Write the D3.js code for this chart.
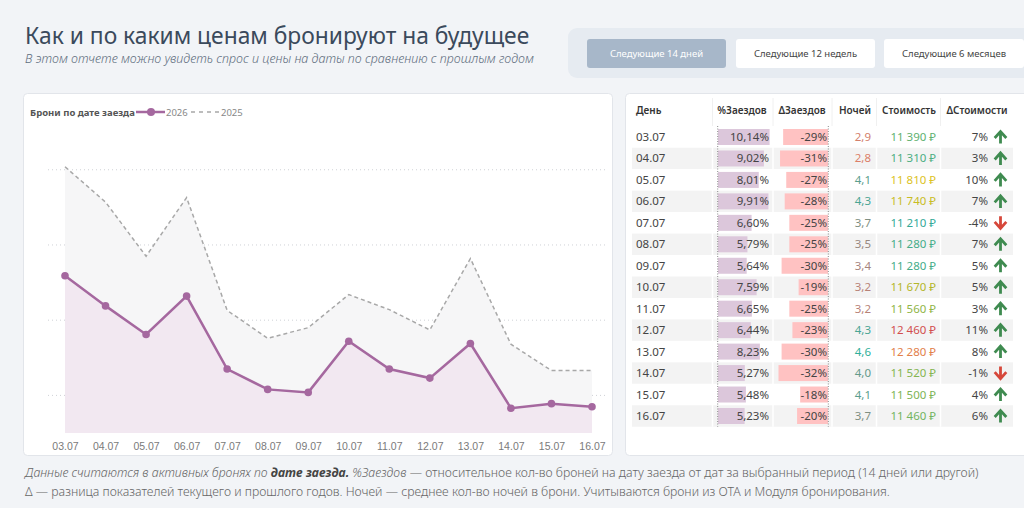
<!DOCTYPE html>
<html><head><meta charset="utf-8">
<script src="https://cdn.jsdelivr.net/npm/d3@7"></script>
<style>
html,body{margin:0;padding:0;background:#f2f4f7;}
svg{display:block;font-family:"Segoe UI","Noto Sans","Open Sans",sans-serif;}
</style></head>
<body>
<svg id="chart" width="1024" height="508"></svg>
<script>
/* Data */
const days=["03.07","04.07","05.07","06.07","07.07","08.07","09.07","10.07","11.07","12.07","13.07","14.07","15.07","16.07"];
const bookings2026=[35.9,31.9,28.1,33.2,23.5,20.8,20.4,27.2,23.5,22.3,26.9,18.3,18.9,18.5];
const bookings2025=[50.4,45.7,38.5,46.3,31.3,27.6,29.0,33.4,31.4,28.7,38.2,26.8,23.3,23.3];
const pctArrivals=[10.14,9.02,8.01,9.91,6.60,5.79,5.64,7.59,6.65,6.44,8.23,5.27,5.48,5.23];
const deltaArrivals=[-29,-31,-27,-28,-25,-25,-30,-19,-25,-23,-30,-32,-18,-20];
const nights=[2.9,2.8,4.1,4.3,3.7,3.5,3.4,3.2,3.2,4.3,4.6,4.0,4.1,3.7];
const price=[11390,11310,11810,11740,11210,11280,11280,11670,11560,12460,12280,11520,11500,11460];
const deltaPrice=[7,3,10,7,-4,7,5,5,3,11,8,-1,4,6];
const yTicks=[20,30,40,50];
const buttons=["Следующие 14 дней","Следующие 12 недель","Следующие 6 месяцев"];
const headers=["День","%Заездов","ΔЗаездов","Ночей","Стоимость","ΔСтоимости"];

const svg=d3.select("#chart");
const fmt2=v=>v.toFixed(2).replace(".",",")+"%";
const fmt1=v=>v.toFixed(1).replace(".",",");
const fmtPrice=v=>d3.format(",")(v).replace(/,/g," ")+" ₽";

/* Header */
svg.append("text").attr("x",25).attr("y",44).attr("font-size",22.8).attr("fill","#3b4a5c").text("Как и по каким ценам бронируют на будущее");
svg.append("text").attr("x",25).attr("y",63).attr("font-size",12.5).attr("font-style","italic").attr("font-weight",300).attr("fill","#5f6e7e").text("В этом отчете можно увидеть спрос и цены на даты по сравнению с прошлым годом");

/* Buttons */
svg.append("rect").attr("x",568).attr("y",28).attr("width",470).attr("height",50).attr("rx",9).attr("fill","#e6ebf1");
const btnX=[587,736,884], btnW=[139,139,140];
buttons.forEach((b,i)=>{
  svg.append("rect").attr("x",btnX[i]).attr("y",39).attr("width",btnW[i]).attr("height",29).attr("rx",3)
    .attr("fill",i===0?"#a7b7c9":"#fff");
  svg.append("text").attr("x",btnX[i]+btnW[i]/2).attr("y",57).attr("text-anchor","middle").attr("font-size",9.5)
    .attr("fill",i===0?"#fff":"#444").text(b);
});

/* Cards */
svg.append("rect").attr("x",23.5).attr("y",93.5).attr("width",589).attr("height",362).attr("rx",4).attr("fill","#fff").attr("stroke","#e2e5ea");
svg.append("rect").attr("x",625.5).attr("y",93.5).attr("width",420).attr("height",362).attr("rx",4).attr("fill","#fff").attr("stroke","#e2e5ea");

/* Line chart */
const x=d3.scalePoint().domain(days).range([65,592]);
const y=d3.scaleLinear().domain([15,50]).range([433,169.75]);
const g=svg.append("g");
g.selectAll(".grid").data(yTicks).enter().append("line")
  .attr("x1",48).attr("x2",605).attr("y1",d=>y(d)).attr("y2",d=>y(d))
  .attr("stroke","#cfd2d6").attr("stroke-dasharray","1,3");
const area=vals=>d3.area().x((d,i)=>x(days[i])).y0(y(15)).y1(d=>y(d))(vals);
const line=vals=>d3.line().x((d,i)=>x(days[i])).y(d=>y(d))(vals);
g.append("path").attr("d",area(bookings2025)).attr("fill","#f6f6f7");
g.append("path").attr("d",area(bookings2026)).attr("fill","#f2e8f1");
g.append("path").attr("d",line(bookings2025)).attr("fill","none").attr("stroke","#a8a8a8").attr("stroke-width",1.5).attr("stroke-dasharray","4,3");
g.append("path").attr("d",line(bookings2026)).attr("fill","none").attr("stroke","#a5689f").attr("stroke-width",2.5);
g.selectAll(".pt").data(bookings2026).enter().append("circle")
  .attr("cx",(d,i)=>x(days[i])).attr("cy",d=>y(d)).attr("r",3.8).attr("fill","#a5689f");
const xAxis=g.append("g").attr("transform","translate(0,433)").call(d3.axisBottom(x).tickSize(0).tickPadding(10));
xAxis.select(".domain").remove();
xAxis.selectAll("text").attr("font-size",10.5).attr("fill","#7a7a7a").attr("font-family","inherit");

/* Legend */
svg.append("text").attr("x",30).attr("y",116).attr("font-size",9.5).attr("font-weight",700).attr("fill","#555").text("Брони по дате заезда");
svg.append("line").attr("x1",136).attr("x2",165).attr("y1",112).attr("y2",112).attr("stroke","#a5689f").attr("stroke-width",2.5);
svg.append("circle").attr("cx",151).attr("cy",112).attr("r",4).attr("fill","#a5689f");
svg.append("text").attr("x",166).attr("y",116).attr("font-size",9.5).attr("fill","#888").text("2026");
svg.append("line").attr("x1",191).attr("x2",219).attr("y1",112).attr("y2",112).attr("stroke","#a8a8a8").attr("stroke-width",1.5).attr("stroke-dasharray","4,4");
svg.append("text").attr("x",221).attr("y",116).attr("font-size",9.5).attr("fill","#888").text("2025");

/* Table */
const rowH=21.46, row0=137;
const rowY=i=>row0+i*rowH;
const pctW=d3.scaleLinear().domain([0,d3.max(pctArrivals)]).range([0,51.6]);
const dW=d3.scaleLinear().domain([0,32]).range([0,49.5]);
const nightColor=d3.scaleLinear().domain([2.8,3.4,3.7,4.6]).range(["#dc7f68","#a5847e","#7f8f82","#2fb09b"]);
const priceColor=d3.scaleLinear().domain([11210,11450,11670,11810,12280,12460]).range(["#34a998","#6fb463","#b3b62a","#dcc21e","#e2804a","#d24e4e"]);
const t=svg.append("g");
const rows=t.selectAll(".row").data(days).enter().append("g");
rows.append("rect").attr("x",632).attr("y",(d,i)=>rowY(i)-10.7).attr("width",381).attr("height",rowH)
  .attr("fill",(d,i)=>i%2?"#f3f3f3":"#fff");
[712.5,773,832,876.5,940.5].forEach(cx=>{
  t.append("line").attr("x1",cx).attr("x2",cx).attr("y1",98).attr("y2",rowY(13)+10.7).attr("stroke","#fff").attr("stroke-width",1.5);
  t.append("line").attr("x1",cx).attr("x2",cx).attr("y1",98).attr("y2",126).attr("stroke","#f0f0f0");
});
const hx=[636,742,802,855,909,977], ha=["start","middle","middle","middle","middle","middle"];
headers.forEach((h,i)=>t.append("text").attr("x",hx[i]).attr("y",114).attr("text-anchor",ha[i]).attr("font-size",10).attr("font-weight",600).attr("fill","#333").text(h));
rows.append("rect").attr("x",718).attr("y",(d,i)=>rowY(i)-8).attr("width",(d,i)=>pctW(pctArrivals[i])).attr("height",16).attr("fill","#dcc7db");
rows.append("rect").attr("x",(d,i)=>828-dW(-deltaArrivals[i])).attr("y",(d,i)=>rowY(i)-8).attr("width",(d,i)=>dW(-deltaArrivals[i])).attr("height",16).attr("fill","#ffc2c2");
[717.7,828.3].forEach(cx=>t.append("line").attr("x1",cx).attr("x2",cx).attr("y1",126).attr("y2",rowY(13)+10.7).attr("stroke","#8a8a8a").attr("stroke-dasharray","1,1.5"));
const cell=(xx,anchor,txt,col)=>rows.append("text").attr("x",xx).attr("y",(d,i)=>rowY(i)+4).attr("text-anchor",anchor).attr("font-size",11.5).attr("fill",col).text(txt);
cell(636,"start",d=>d,"#444");
cell(769,"end",(d,i)=>fmt2(pctArrivals[i]),"#444");
cell(827,"end",(d,i)=>deltaArrivals[i]+"%","#444");
cell(871,"end",(d,i)=>fmt1(nights[i]),(d,i)=>nightColor(nights[i]));
cell(936,"end",(d,i)=>fmtPrice(price[i]),(d,i)=>priceColor(price[i]));
cell(988,"end",(d,i)=>deltaPrice[i]+"%","#444");
rows.append("path")
  .attr("transform",(d,i)=>`translate(1000.5,${rowY(i)})`+(deltaPrice[i]<0?" rotate(180)":""))
  .attr("d","M0,6.5 L0,-4.5 M-5.8,1 L0,-5.5 L5.8,1")
  .attr("fill","none").attr("stroke",(d,i)=>deltaPrice[i]<0?"#d6473a":"#3f8b50").attr("stroke-width",2.8);

/* Footer */
const f1=svg.append("text").attr("x",25).attr("y",477).attr("font-size",12.3).attr("fill","#666");
f1.append("tspan").attr("font-style","italic").attr("font-weight",300).text("Данные считаются в активных бронях по ");
f1.append("tspan").attr("font-style","italic").attr("font-weight",700).attr("fill","#444").text("дате заезда.");
f1.append("tspan").attr("font-style","italic").attr("font-weight",300).text("  %Заездов");
f1.append("tspan").attr("font-weight",300).text(" — относительное кол-во броней на дату заезда от дат за выбранный период (14 дней или другой)");
svg.append("text").attr("x",25).attr("y",496).attr("font-size",12.3).attr("font-weight",300).attr("fill","#666")
  .text("Δ — разница показателей текущего и прошлого годов. Ночей — среднее кол-во ночей в брони. Учитываются брони из ОТА и Модуля бронирования.");
</script>
</body></html>
